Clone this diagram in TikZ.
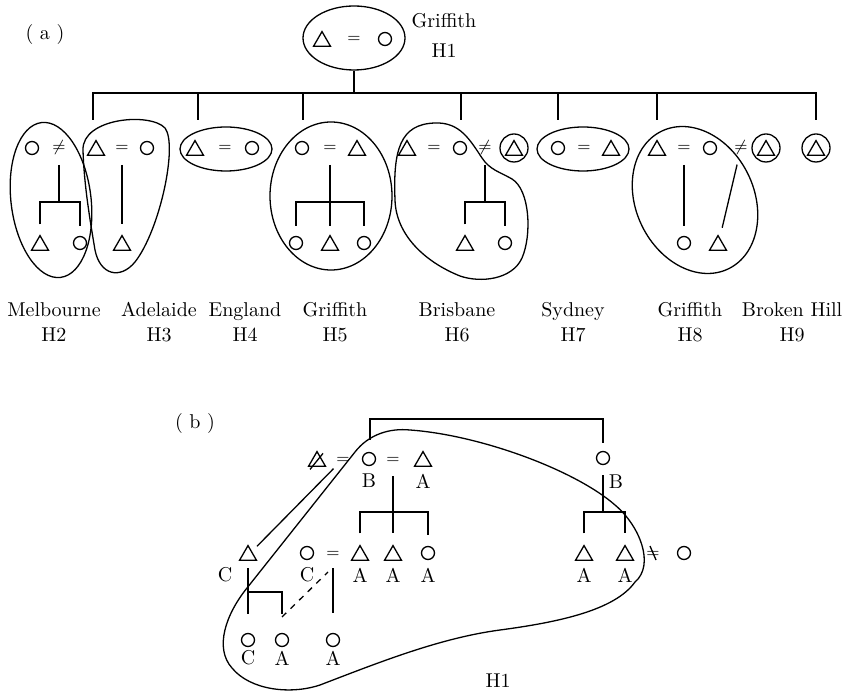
\documentclass[tikz,border=0pt]{standalone}
\usepackage{tikz}
\usetikzlibrary{shapes.geometric,calc}

\tikzstyle{tri}=[regular polygon,regular polygon sides=3,draw,inner sep=0pt,
                minimum size=9.8pt,yshift=-1.2pt]
\tikzstyle{circ}=[circle,draw,inner sep=0pt,minimum size=6.5pt]
\tikzstyle{ring}=[circle,draw,inner sep=0pt,minimum size=14pt]
\tikzstyle{rel}=[inner sep=0pt,font=\footnotesize,text height=4pt,text depth=0pt]
\tikzstyle{place}=[align=center,inner sep=0pt,font=\fontsize{10}{12.5}\selectfont]
\tikzstyle{lab}=[inner sep=0pt,font=\fontsize{10}{12}\selectfont]
\tikzstyle{par}=[shorten <=8.5pt]
\tikzstyle{sib}=[shorten <=5pt,shorten >=5pt]

\begin{document}
\begin{tikzpicture}[x=0.5pt,y=-0.5pt,line width=0.65pt]
\useasboundingbox (0,0) rectangle (850,694);

% % % % % % % % % % % % % % % (a)

\node[lab] (taga) at (45,35) {( a )};

\node[ellipse,draw,inner sep=0pt,minimum width=51pt,minimum height=32pt] (h1) at (354,38) {};
\node[tri] (h1m) at (322,39) {};
\node[rel] (h1e) at (354,39) {$=$};
\node[circ] (h1f) at (385,39) {};
\node[place] (h1lab) at (444,35) {Griffith\\[2.5pt]H1};

\coordinate (bar) at (354,93);
\foreach \n/\x in {2/93,4/198,5/303,6/461,7/558,8/657,9/816}
  \coordinate (d\n) at (\x,120);
\draw (h1) -- (bar);
\draw (d2) |- (bar) -| (d9);
\foreach \n in {4,...,8}
  \draw (d\n) -- (d\n |- bar);

% Melbourne
\node[circ] (h2f) at (32,148) {};
\node[rel] (h2n) at (59,148) {$\neq$};
\node[tri] (h2s) at (40,243) {};
\node[circ] (h2d) at (80,243) {};
\coordinate (h2j) at (59,202);
\draw[par] (h2n.center) -- (h2j);
\draw[sib] (h2s) |- (h2j) -| (h2d);
\draw[rotate around={7:(51,200)}] (51,200) ellipse [x radius=40,y radius=78];

% Adelaide
\node[tri] (h3m) at (96,148) {};
\node[rel] (h3e) at (122,148) {$=$};
\node[circ] (h3f) at (147,148) {};
\node[tri] (h3s) at (122,243) {};
\draw[par,shorten >=5pt] (h3e.center) -- (h3s);
\draw (83,150) .. controls (82,118) and (150,112) .. (165,128)
  .. controls (178,145) and (160,230) .. (135,262)
  .. controls (120,280) and (100,275) .. (95,250)
  .. controls (90,220) and (84,185) .. cycle;

% England
\node[tri] (h4m) at (195,148) {};
\node[rel] (h4e) at (225,148) {$=$};
\node[circ] (h4f) at (252,148) {};
\draw (226,149) ellipse [x radius=46,y radius=22];

% Griffith
\node[circ] (h5f) at (302,148) {};
\node[rel] (h5e) at (330,148) {$=$};
\node[tri] (h5m) at (357,148) {};
\node[circ] (h5a) at (296,243) {};
\node[tri] (h5b) at (330,243) {};
\node[circ] (h5c) at (364,243) {};
\coordinate (h5j) at (330,202);
\draw[par,shorten >=4pt] (h5e.center) -- (h5b);
\draw[sib] (h5a) |- (h5j) -| (h5c);
\draw (331,196) ellipse [x radius=61,y radius=74];

% Brisbane
\node[tri] (h6m) at (407,148) {};
\node[rel] (h6e) at (434,148) {$=$};
\node[circ] (h6f) at (460,148) {};
\node[rel] (h6n) at (485,148) {$\neq$};
\node[ring] (h6x) at (514,148) {};
\node[tri] (h6xt) at (h6x) {};
\node[tri] (h6s) at (465,243) {};
\node[circ] (h6d) at (505,243) {};
\coordinate (h6j) at (485,202);
\draw[par] (h6n.center) -- (h6j);
\draw[sib] (h6s) |- (h6j) -| (h6d);
\draw (395,200) .. controls (393,150) and (400,124) .. (435,123)
  .. controls (460,122) and (470,140) .. (482,158)
  .. controls (490,170) and (500,172) .. (512,179)
  .. controls (530,190) and (532,235) .. (522,258)
  .. controls (512,280) and (480,283) .. (460,276)
  .. controls (425,262) and (396,235) .. cycle;

% Sydney
\node[circ] (h7f) at (558,148) {};
\node[rel] (h7e) at (584,148) {$=$};
\node[tri] (h7m) at (611,148) {};
\draw (583,149) ellipse [x radius=46,y radius=22];

% Griffith
\node[tri] (h8m) at (657,148) {};
\node[rel] (h8e) at (684,148) {$=$};
\node[circ] (h8f) at (710,148) {};
\node[rel] (h8n) at (741,148) {$\neq$};
\node[ring] (h8x) at (766,148) {};
\node[tri] (h8xt) at (h8x) {};
\node[circ] (h8d) at (684,243) {};
\node[tri] (h8s) at (718,243) {};
\draw[par,shorten >=5pt] (h8e.center) -- (h8d);
\draw[par,shorten >=5pt] (h8n.center) -- (h8s);
\draw[rotate around={26:(695,200)}] (695,200) ellipse [x radius=59,y radius=76.5];

% Broken Hill
\node[ring] (h9x) at (816,148) {};
\node[tri] (h9xt) at (h9x) {};

\node[place] (p2) at (54,322) {Melbourne\\H2};
\node[place] (p3) at (159,322) {Adelaide\\H3};
\node[place] (p4) at (245,322) {England\\H4};
\node[place] (p5) at (335,322) {Griffith\\H5};
\node[place] (p6) at (457,322) {Brisbane\\H6};
\node[place] (p7) at (573,322) {Sydney\\H7};
\node[place] (p8) at (690,322) {Griffith\\H8};
\node[place] (p9) at (792,322) {Broken Hill\\H9};

% % % % % % % % % % % % % % % (b)

\node[lab] (tagb) at (195,424) {( b )};

\node[tri] (b1) at (317,459) {};
\draw ([shift={(-7,8)}]b1.center) -- ([shift={(6,-8)}]b1.center);
\node[rel] (b2) at (343,459) {$=$};
\node[circ] (b3) at (369,459) {};
\node[rel] (b4) at (393,459) {$=$};
\node[tri] (b5) at (423,459) {};
\node[circ] (b6) at (603,458) {};
\node[lab] (l3) at (369,481) {B};
\node[lab] (l5) at (423,481) {A};
\node[lab] (l6) at (616,482) {B};

\node[tri] (b7) at (248,553) {};
\node[circ] (b8) at (307,553) {};
\node[rel] (b9) at (333,553) {$=$};
\node[tri] (b10) at (360,553) {};
\node[tri] (b11) at (393,553) {};
\node[circ] (b12) at (428,553) {};
\node[tri] (b13) at (584,553) {};
\node[tri] (b14) at (625,553) {};
\node[rel] (b15) at (653,553) {$=$};
\draw ([shift={(-3,-7)}]b15.center) -- ([shift={(3,7)}]b15.center);
\node[circ] (b16) at (684,553) {};
\node[lab] (l7) at (225,575) {C};
\node[lab] (l8) at (307,575) {C};
\node[lab] (l10) at (360,575) {A};
\node[lab] (l11) at (393,575) {A};
\node[lab] (l12) at (428,575) {A};
\node[lab] (l13) at (584,575) {A};
\node[lab] (l14) at (625,575) {A};

\node[circ] (b17) at (248,640) {};
\node[circ] (b18) at (282,640) {};
\node[circ] (b19) at (333,640) {};
\node[lab] (l17) at (248,658) {C};
\node[lab] (l18) at (282,658) {A};
\node[lab] (l19) at (333,658) {A};

\coordinate (bt) at (370,440);
\coordinate (btop) at (486,419);
\draw[shorten >=4pt] (bt) |- (btop) -| (b6);
\draw[shorten <=6.75pt,shorten >=6.4pt] (b2.center) -- (b7.center);

\coordinate (bj1) at (393,512);
\draw[par,shorten >=5.5pt] (b4.center) -- (b11);
\draw[shorten <=5.5pt,shorten >=5.5pt] (b10) |- (bj1) -| (b12);

\coordinate (bj2) at (603,512);
\draw[par] (b6.center) -- (bj2);
\draw[shorten <=5.5pt,shorten >=5.5pt] (b13) |- (bj2) -| (b14);

\coordinate (bj3) at (248,592);
\draw[shorten <=6.5pt,shorten >=9.5pt] (b7.center) -- (b17);
\draw[shorten >=9.5pt] (bj3) -| (b18);
\coordinate (bd) at (282,617);
\coordinate (bde) at (328,572);
\draw[dashed] (bd) -- (bde);
\draw[shorten <=7.5pt,shorten >=9.8pt] (b9.center) -- (b19);

% household outline
\draw (247,588) -- (355,452)
  .. controls (369,434) and (390,428) .. (410,430)
  .. controls (480,435) and (575,470) .. (615,505)
  .. controls (640,526) and (655,565) .. (635,582)
  .. controls (615,610) and (560,622) .. (500,630)
  .. controls (440,638) and (380,662) .. (320,685)
  .. controls (290,695) and (250,690) .. (232,668)
  .. controls (214,648) and (226,614) .. cycle;
\node[lab] (h1b) at (498,681) {H1};

\end{tikzpicture}
\end{document}
